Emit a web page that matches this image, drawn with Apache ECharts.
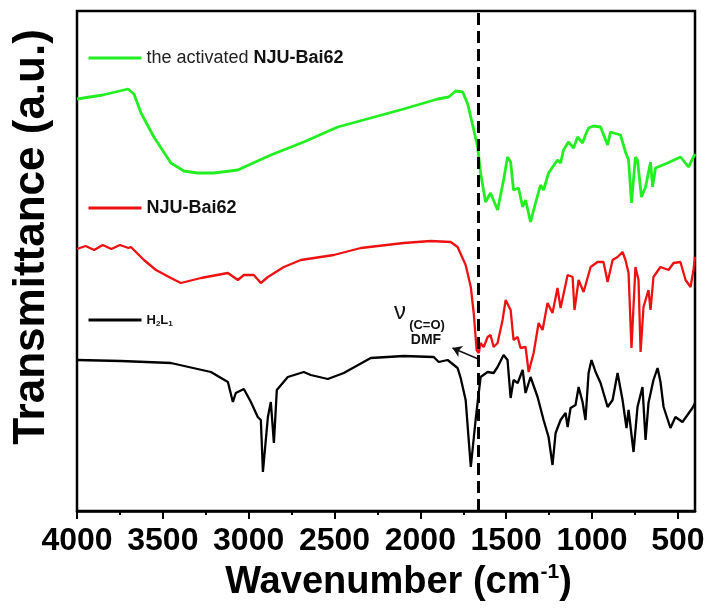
<!DOCTYPE html>
<html><head><meta charset="utf-8">
<script src="https://cdn.jsdelivr.net/npm/echarts@6/dist/echarts.min.js"></script>
<style>html,body{margin:0;padding:0;background:#fff}#c{width:708px;height:611px}</style>
</head><body><div id="c"></div>
<script>
// Wavenumber (cm-1) vs transmittance (arbitrary units, offset stacked)
const seriesNames = ['the activated NJU-Bai62', 'NJU-Bai62', 'H2L1'];
const xTickValues = [500, 1000, 1500, 2000, 2500, 3000, 3500, 4000];
const dmfCO = 1662;          // v(C=O) DMF marker position
const arrowFrom = [1662, 152];
const arrowTo = [1813, 163];

const activatedSpectrum = [
 [4000,412],[3850,416],[3703,422],[3668,417],[3627,398],[3552,374],[3453,348],[3377,340],
 [3300,338],[3203,338],[3063,341],[2871,356],[2679,369],[2481,384],[2289,393],[2097,402],
 [1899,412],[1835,414],[1794,420],[1753,419],[1724,407],[1706,394],[1666,364],[1649,338],
 [1620,309],[1591,318],[1550,301],[1515,331],[1492,354],[1474,349],[1457,321],[1428,323],
 [1404,304],[1387,311],[1358,289],[1329,308],[1300,326],[1282,321],[1253,338],[1201,351],
 [1183,348],[1166,361],[1137,369],[1107,363],[1084,374],[1055,368],[1038,376],[1020,383],
 [991,385],[950,384],[909,366],[892,379],[834,376],[805,359],[787,351],[770,308],[747,354],
 [735,351],[712,314],[688,324],[659,349],[647,324],[630,343],[560,348],[484,354],[438,344],[400,357]
];
const asSynthesizedSpectrum = [
 [4000,262],[3950,265],[3900,261],[3850,266],[3800,262],[3750,266],[3700,263],[3686,264],
 [3610,251],[3540,241],[3453,233],[3395,228],[3278,233],[3121,238],[3063,231],[3028,236],
 [2970,236],[2929,228],[2888,234],[2795,244],[2696,251],[2504,256],[2347,263],[2097,268],
 [1940,270],[1823,269],[1783,264],[1736,246],[1706,224],[1689,198],[1672,161],[1660,158],
 [1649,168],[1631,164],[1608,174],[1591,176],[1573,164],[1550,168],[1521,191],[1503,211],
 [1474,201],[1457,171],[1433,174],[1416,163],[1387,164],[1369,139],[1340,158],[1311,188],
 [1288,181],[1259,208],[1230,198],[1201,223],[1183,203],[1142,236],[1113,234],[1102,201],
 [1078,231],[1049,219],[1008,244],[968,249],[933,249],[909,229],[880,251],[851,254],
 [822,259],[805,251],[787,238],[770,163],[747,244],[729,231],[717,159],[700,204],[671,221],
 [659,201],[642,234],[601,244],[554,241],[525,248],[485,249],[455,231],[426,224],[409,241],[400,254]
];
const ligandSpectrum = [
 [4000,151],[3744,150],[3453,148],[3220,139],[3121,129],[3092,109],[3075,118],[3028,122],
 [2987,109],[2947,94],[2929,91],[2917,39],[2888,94],[2871,109],[2853,68],[2836,121],
 [2772,134],[2679,139],[2638,136],[2539,132],[2446,138],[2289,153],[2097,155],[1922,154],
 [1893,149],[1841,151],[1783,143],[1765,133],[1736,111],[1706,44],[1678,91],[1649,134],
 [1608,139],[1573,138],[1550,144],[1515,156],[1492,151],[1474,113],[1457,131],[1433,128],
 [1404,141],[1387,118],[1358,134],[1317,114],[1282,91],[1253,74],[1230,46],[1212,78],
 [1183,91],[1154,98],[1142,84],[1125,103],[1096,106],[1078,124],[1055,109],[1038,91],
 [1020,138],[1003,151],[979,139],[950,128],[909,104],[880,111],[851,138],[822,111],
 [799,83],[787,101],[758,59],[735,104],[706,124],[688,71],[671,108],[642,131],[618,143],
 [601,129],[583,104],[543,83],[514,94],[473,89],[444,96],[415,103],[400,108]
];

const FONT = 'Liberation Sans, Arial, Helvetica, sans-serif';
const chart = echarts.init(document.getElementById('c'), null, {renderer: 'canvas'});

function legendCfg(name, top, formatter, rich) {
  return {
    data: [name], left: 87, top: top, padding: 0, itemWidth: 53, itemHeight: 14, itemGap: 0,
    selectedMode: false, formatter: formatter,
    itemStyle: {opacity: 0},
    lineStyle: {width: 3},
    textStyle: {fontFamily: FONT, color: '#111', rich: rich}
  };
}

chart.setOption({
  backgroundColor: '#fff',
  animation: false,
  grid: {left: 77, right: 13, top: 11, bottom: 100, show: true, borderColor: '#000', borderWidth: 2.5, backgroundColor: 'transparent'},
  legend: [
    legendCfg(seriesNames[0], 49, () => '{n|the activated }{b|NJU-Bai62}',
      {n: {fontSize: 18, fontFamily: FONT, color: '#222'}, b: {fontSize: 18, fontWeight: 'bold', fontFamily: FONT, color: '#111'}}),
    legendCfg(seriesNames[1], 199, () => '{b|NJU-Bai62}',
      {b: {fontSize: 18, fontWeight: 'bold', fontFamily: FONT, color: '#111'}}),
    legendCfg(seriesNames[2], 312, () => '{b|H}{s|2}{b|L}{s|1}',
      {b: {fontSize: 13, fontWeight: 'bold', fontFamily: FONT, color: '#111', lineHeight: 16, verticalAlign: 'middle'},
       s: {fontSize: 8, fontWeight: 'bold', fontFamily: FONT, color: '#111', lineHeight: 16, verticalAlign: 'bottom', padding: [8, 0, 0, 0]}})
  ],
  xAxis: {
    type: 'value', inverse: true, min: 400, max: 4000, splitNumber: 7,
    splitLine: {show: false},
    axisLine: {show: true, onZero: false, lineStyle: {color: '#000', width: 2.5}},
    axisTick: {show: true, inside: false, length: 8, lineStyle: {color: '#000', width: 2}, customValues: xTickValues},
    minorTick: {show: true, splitNumber: 2, length: 4, lineStyle: {color: '#000', width: 2}},
    axisLabel: {show: true, customValues: xTickValues, formatter: v => String(v), fontSize: 32, fontWeight: 'bold', fontFamily: FONT, color: '#000', margin: 14},
    name: '{w|Wavenumber (cm}{sup|-1}{w|)}', nameLocation: 'middle', nameGap: 48,
    nameTextStyle: {fontFamily: FONT, fontWeight: 'bold', fontSize: 38, color: '#000', padding: [0, 0, 0, 25],
      rich: {w: {fontFamily: FONT, fontWeight: 'bold', fontSize: 38, color: '#000', lineHeight: 42},
             sup: {fontFamily: FONT, fontWeight: 'bold', fontSize: 21, color: '#000', verticalAlign: 'top', lineHeight: 42, padding: [0, 0, 14, 0]}}}
  },
  yAxis: {
    type: 'value', min: 0, max: 500,
    axisLine: {show: false}, axisTick: {show: false}, axisLabel: {show: false}, splitLine: {show: false}
  },
  series: [
    {name: seriesNames[0], type: 'line', data: activatedSpectrum, symbol: 'none', lineStyle: {color: '#22ee22', width: 2.8}, itemStyle: {color: '#22ee22'}, z: 3},
    {name: seriesNames[1], type: 'line', data: asSynthesizedSpectrum, symbol: 'none', lineStyle: {color: '#ee1111', width: 2.3}, itemStyle: {color: '#ee1111'}, z: 3,
     markLine: {silent: true, symbol: ['none', 'arrow'], symbolSize: 9, label: {show: false},
       lineStyle: {color: '#111', width: 1.5, type: 'solid'},
       data: [[{coord: arrowFrom}, {coord: arrowTo}]]}},
    {name: seriesNames[2], type: 'line', data: ligandSpectrum, symbol: 'none', lineStyle: {color: '#000', width: 2.3}, itemStyle: {color: '#000'}, z: 3,
     markLine: {silent: true, symbol: ['none', 'none'], label: {show: false},
       lineStyle: {color: '#000', width: 3, type: [12, 6]},
       data: [{xAxis: dmfCO}]}}
  ],
  graphic: [
    {type: 'text', x: 32, y: 237, rotation: Math.PI / 2,
     style: {text: 'Transmittance (a.u.)', font: 'bold 44px ' + FONT, fill: '#000', align: 'center', verticalAlign: 'middle'}},
    {type: 'text', x: 400, y: 312, style: {text: 'ν', font: '24px ' + FONT, fill: '#111', align: 'center', verticalAlign: 'middle'}},
    {type: 'text', x: 427, y: 325, style: {text: '(C=O)', font: 'bold 13px ' + FONT, fill: '#111', align: 'center', verticalAlign: 'middle'}},
    {type: 'text', x: 426, y: 340, style: {text: 'DMF', font: 'bold 14px ' + FONT, fill: '#111', align: 'center', verticalAlign: 'middle'}}
  ]
});
</script></body></html>
